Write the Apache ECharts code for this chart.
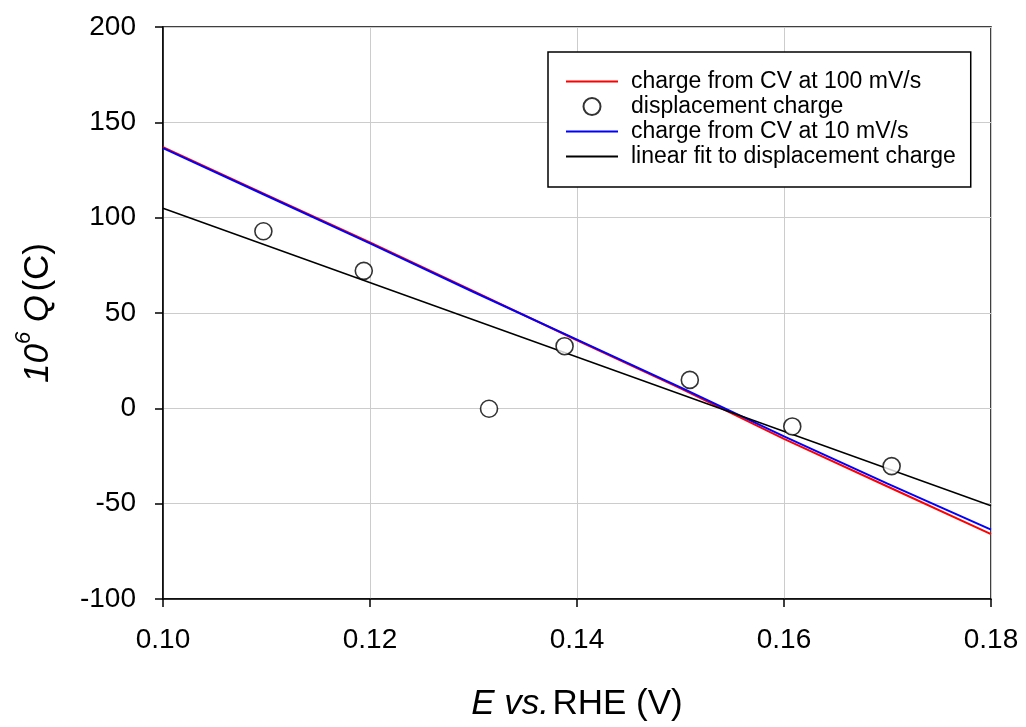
<!DOCTYPE html>
<html>
<head>
<meta charset="utf-8">
<script src="https://cdn.jsdelivr.net/npm/echarts@6/dist/echarts.min.js"></script>
<style>
  html, body { margin: 0; padding: 0; background: #fff; }
  #chart { width: 1026px; height: 727px; }
</style>
</head>
<body>
<div id="chart"></div>
<script>
'use strict';

// potential E vs. RHE (V)
var cvPotential = [0.10, 0.11, 0.12, 0.13, 0.14, 0.15, 0.16, 0.17, 0.18];
var cv100 = [137, 112, 87, 61.5, 35.7, 10.5, -16, -41, -66];
var cv10 = [136.5, 111.5, 86.5, 61, 36, 11, -14.7, -39.5, -63.6];

var dispPotential = [0.1097, 0.1194, 0.1315, 0.1388, 0.1509, 0.1608, 0.1704];
var dispCharge = [92.9, 72.1, -0.2, 32.6, 14.9, -9.5, -30.3];

var fitPotential = [0.10, 0.18];
var fitCharge = [104.9, -51.1];

var xTicks = [0.10, 0.12, 0.14, 0.16, 0.18];
var yTicks = [-100, -50, 0, 50, 100, 150, 200];

function pairs(xs, ys) {
  return xs.map(function (x, i) { return [x, ys[i]]; });
}

var font = '"Liberation Sans", Arial, sans-serif';
var hideDot = { opacity: 0 };

var option = {
  animation: false,
  backgroundColor: '#fff',
  grid: {
    left: 163, right: 35, top: 27, bottom: 123,
    show: true, borderColor: '#000', borderWidth: 1.5
  },
  legend: {
    left: 548, top: 52,
    orient: 'vertical',
    padding: [17, 15, 18, 17],
    itemGap: 0,
    itemWidth: 52, itemHeight: 17,
    borderColor: '#000', borderWidth: 1.5,
    backgroundColor: '#fff',
    textStyle: { fontFamily: font, fontSize: 23, lineHeight: 25, color: '#000', padding: [0, 0, 0, 8] },
    data: [
      { name: 'charge from CV at 100 mV/s', itemStyle: hideDot },
      { name: 'displacement charge' },
      { name: 'charge from CV at 10 mV/s', itemStyle: hideDot },
      { name: 'linear fit to displacement charge', itemStyle: hideDot }
    ]
  },
  xAxis: {
    type: 'value',
    min: xTicks[0], max: xTicks[xTicks.length - 1], interval: 0.02,
    axisLine: { onZero: false, lineStyle: { color: '#000', width: 1.5 } },
    axisTick: { inside: false, length: 8, lineStyle: { color: '#000', width: 1.5 } },
    splitLine: { show: true, lineStyle: { color: '#cccccc', width: 1 } },
    axisLabel: {
      margin: 27, color: '#000', fontFamily: font, fontSize: 28,
      formatter: function (v) { return v.toFixed(2); }
    },
    name: '{i|E vs.} {n|RHE (V)}',
    nameLocation: 'middle',
    nameGap: 88,
    nameTextStyle: {
      rich: {
        i: { fontFamily: font, fontSize: 35, fontStyle: 'italic', color: '#000' },
        n: { fontFamily: font, fontSize: 35, color: '#000' }
      }
    }
  },
  yAxis: {
    type: 'value',
    min: yTicks[0], max: yTicks[yTicks.length - 1], interval: 50,
    axisLine: { onZero: false, lineStyle: { color: '#000', width: 1.5 } },
    axisTick: { inside: false, length: 8, lineStyle: { color: '#000', width: 1.5 } },
    splitLine: { show: true, lineStyle: { color: '#cccccc', width: 1 } },
    axisLabel: { margin: 27, color: '#000', fontFamily: font, fontSize: 28 },
    name: '{i|10}{s|6}{i| Q} {n|(C)}',
    nameLocation: 'middle',
    nameRotate: 90,
    nameGap: 100,
    nameTextStyle: {
      rich: {
        i: { fontFamily: font, fontSize: 35, fontStyle: 'italic', color: '#000' },
        s: { fontFamily: font, fontSize: 22, fontStyle: 'italic', color: '#000', verticalAlign: 'top', lineHeight: 50 },
        n: { fontFamily: font, fontSize: 35, color: '#000' }
      }
    }
  },
  series: [
    {
      name: 'charge from CV at 100 mV/s',
      type: 'line',
      data: pairs(cvPotential, cv100),
      symbol: 'none',
      lineStyle: { color: '#ff0000', width: 2 },
      itemStyle: { color: '#ff0000' },
      z: 2
    },
    {
      name: 'displacement charge',
      type: 'scatter',
      data: pairs(dispPotential, dispCharge),
      symbol: 'circle',
      symbolSize: 17,
      itemStyle: { color: '#fff', borderColor: '#000', borderWidth: 1.6 },
      z: 5
    },
    {
      name: 'charge from CV at 10 mV/s',
      type: 'line',
      data: pairs(cvPotential, cv10),
      symbol: 'none',
      lineStyle: { color: '#0000ff', width: 2 },
      itemStyle: { color: '#0000ff' },
      z: 3
    },
    {
      name: 'linear fit to displacement charge',
      type: 'line',
      data: pairs(fitPotential, fitCharge),
      symbol: 'none',
      lineStyle: { color: '#000', width: 1.5 },
      itemStyle: { color: '#000' },
      z: 4
    }
  ]
};

var chart = echarts.init(document.getElementById('chart'));
chart.setOption(option);
</script>
</body>
</html>
